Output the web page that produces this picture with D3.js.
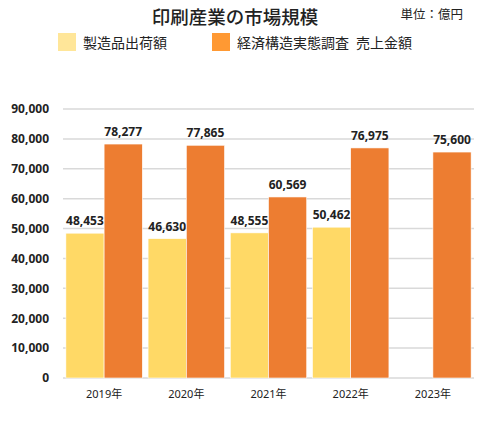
<!DOCTYPE html>
<html>
<head>
<meta charset="utf-8">
<script src="https://cdn.jsdelivr.net/npm/d3@7/dist/d3.min.js"></script>
<style>
  body { margin: 0; background: #fff; }
  text { font-family: "Noto Sans", "Noto Sans CJK JP", sans-serif; fill: #222; }
</style>
</head>
<body>
<div id="chart"></div>
<script>
var years = ['2019年', '2020年', '2021年', '2022年', '2023年'];
var seriesNames = ['製造品出荷額', '経済構造実態調査\u2002売上金額'];
var shipments = [48453, 46630, 48555, 50462, null];
var sales = [78277, 77865, 60569, 76975, 75600];
var yTicks = [0, 10000, 20000, 30000, 40000, 50000, 60000, 70000, 80000, 90000];

var barColors = ['#FFD966', '#ED7D31'];
var legendColors = ['#FFE699', '#FF9933'];

var width = 479, height = 429;
var margin = { top: 109, right: 5, bottom: 51, left: 63 };

var svg = d3.select('#chart').append('svg')
    .attr('width', width)
    .attr('height', height);

var x0 = d3.scaleBand()
    .domain(years)
    .range([margin.left, width - margin.right])
    .paddingInner(0.07)
    .paddingOuter(0.035);

var x1 = d3.scaleBand()
    .domain([0, 1])
    .range([0, x0.bandwidth()]);

var y = d3.scaleLinear()
    .domain([0, 90000])
    .range([height - margin.bottom, margin.top]);

// gridlines
svg.append('g')
    .selectAll('line')
    .data(yTicks)
    .enter().append('line')
    .attr('x1', margin.left)
    .attr('x2', width - margin.right)
    .attr('y1', function(d) { return y(d); })
    .attr('y2', function(d) { return y(d); })
    .style('stroke', '#d9d9d9')
    .style('stroke-width', 1.5);

// y labels
var yAxis = svg.append('g')
    .attr('transform', 'translate(' + (margin.left - 11) + ',0)')
    .call(d3.axisLeft(y).tickValues(yTicks).tickSize(0).tickFormat(d3.format(',')));
yAxis.select('.domain').remove();
yAxis.selectAll('text')
    .style('font-size', '12px')
    .style('font-weight', 'bold')
    .style('fill', '#222');

// x labels
var xAxis = svg.append('g')
    .attr('transform', 'translate(0,' + (height - margin.bottom) + ')')
    .call(d3.axisBottom(x0).tickSize(0).tickPadding(12));
xAxis.select('.domain').remove();
xAxis.selectAll('text')
    .style('font-size', '11px')
    .style('fill', '#222');

var rows = years.map(function(yr, i) {
  return { year: yr, values: [shipments[i], sales[i]] };
});

var groups = svg.selectAll('.grp')
    .data(rows)
    .enter().append('g')
    .attr('class', 'grp')
    .attr('transform', function(d) { return 'translate(' + x0(d.year) + ',0)'; });

var cells = groups.selectAll('g')
    .data(function(d) {
      return d.values.map(function(v, k) { return { k: k, v: v }; })
        .filter(function(c) { return c.v != null; });
    })
    .enter().append('g');

cells.append('rect')
    .attr('x', function(d) { return x1(d.k); })
    .attr('width', x1.bandwidth())
    .attr('y', function(d) { return y(d.v); })
    .attr('height', function(d) { return y(0) - y(d.v); })
    .style('fill', function(d) { return barColors[d.k]; })
    .style('stroke', '#fff')
    .style('stroke-width', 0.6);

cells.append('text')
    .attr('x', function(d) { return x1(d.k) + x1.bandwidth() / 2; })
    .attr('y', function(d) { return y(d.v) - 8; })
    .attr('text-anchor', 'middle')
    .style('font-size', '12px')
    .style('font-weight', 'bold')
    .text(function(d) { return d3.format(',')(d.v); });

// title
svg.append('text')
    .attr('x', 235)
    .attr('y', 24)
    .attr('text-anchor', 'middle')
    .style('font-size', '18.5px')
    .style('font-weight', '500')
    .text('印刷産業の市場規模');

svg.append('text')
    .attr('x', 463)
    .attr('y', 19)
    .attr('text-anchor', 'end')
    .style('font-size', '12.5px')
    .text('単位：億円');

// legend
var legendX = [58, 212];
var legend = svg.selectAll('.leg')
    .data(seriesNames)
    .enter().append('g')
    .attr('class', 'leg')
    .attr('transform', function(d, i) { return 'translate(' + legendX[i] + ',33)'; });

legend.append('rect')
    .attr('width', 18)
    .attr('height', 18)
    .style('fill', function(d, i) { return legendColors[i]; });

legend.append('text')
    .attr('x', 25)
    .attr('y', 14.5)
    .style('font-size', '14px')
    .text(function(d) { return d; });
</script>
</body>
</html>
